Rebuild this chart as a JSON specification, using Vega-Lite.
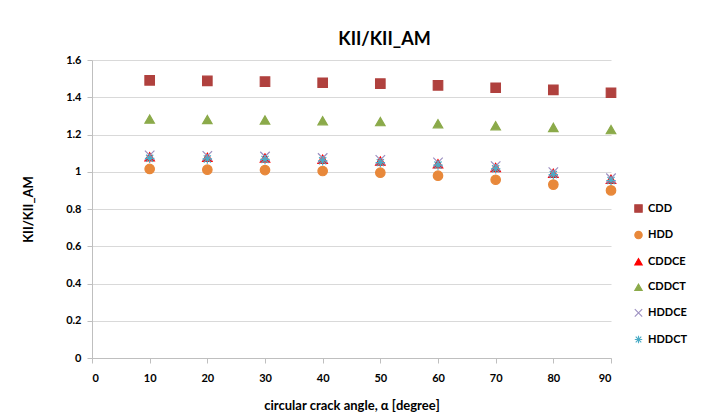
{
  "$schema": "https://vega.github.io/schema/vega-lite/v6.json",
  "width": 519,
  "height": 298,
  "autosize": {"type": "none"},
  "padding": {"left": 92, "top": 60, "right": 93, "bottom": 59},
  "background": "white",
  "title": {
    "text": "KII/KII_AM",
    "font": "Lato",
    "fontSize": 18,
    "fontWeight": "bold",
    "color": "#000000",
    "anchor": "middle",
    "dx": 33,
    "offset": 5
  },
  "data": {
    "values": [
      {"series": "CDD", "angle": 10, "ratio": 1.491},
      {"series": "CDD", "angle": 20, "ratio": 1.488},
      {"series": "CDD", "angle": 30, "ratio": 1.484},
      {"series": "CDD", "angle": 40, "ratio": 1.478},
      {"series": "CDD", "angle": 50, "ratio": 1.473},
      {"series": "CDD", "angle": 60, "ratio": 1.464},
      {"series": "CDD", "angle": 70, "ratio": 1.451},
      {"series": "CDD", "angle": 80, "ratio": 1.440},
      {"series": "CDD", "angle": 90, "ratio": 1.424},
      {"series": "HDD", "angle": 10, "ratio": 1.015},
      {"series": "HDD", "angle": 20, "ratio": 1.011},
      {"series": "HDD", "angle": 30, "ratio": 1.009},
      {"series": "HDD", "angle": 40, "ratio": 1.004},
      {"series": "HDD", "angle": 50, "ratio": 0.995},
      {"series": "HDD", "angle": 60, "ratio": 0.979},
      {"series": "HDD", "angle": 70, "ratio": 0.957},
      {"series": "HDD", "angle": 80, "ratio": 0.931},
      {"series": "HDD", "angle": 90, "ratio": 0.900},
      {"series": "CDDCE", "angle": 10, "ratio": 1.080},
      {"series": "CDDCE", "angle": 20, "ratio": 1.077},
      {"series": "CDDCE", "angle": 30, "ratio": 1.074},
      {"series": "CDDCE", "angle": 40, "ratio": 1.067},
      {"series": "CDDCE", "angle": 50, "ratio": 1.057},
      {"series": "CDDCE", "angle": 60, "ratio": 1.043},
      {"series": "CDDCE", "angle": 70, "ratio": 1.023},
      {"series": "CDDCE", "angle": 80, "ratio": 0.992},
      {"series": "CDDCE", "angle": 90, "ratio": 0.960},
      {"series": "CDDCT", "angle": 10, "ratio": 1.283},
      {"series": "CDDCT", "angle": 20, "ratio": 1.280},
      {"series": "CDDCT", "angle": 30, "ratio": 1.278},
      {"series": "CDDCT", "angle": 40, "ratio": 1.274},
      {"series": "CDDCT", "angle": 50, "ratio": 1.269},
      {"series": "CDDCT", "angle": 60, "ratio": 1.258},
      {"series": "CDDCT", "angle": 70, "ratio": 1.247},
      {"series": "CDDCT", "angle": 80, "ratio": 1.238},
      {"series": "CDDCT", "angle": 90, "ratio": 1.226},
      {"series": "HDDCE", "angle": 10, "ratio": 1.088},
      {"series": "HDDCE", "angle": 20, "ratio": 1.085},
      {"series": "HDDCE", "angle": 30, "ratio": 1.082},
      {"series": "HDDCE", "angle": 40, "ratio": 1.074},
      {"series": "HDDCE", "angle": 50, "ratio": 1.064},
      {"series": "HDDCE", "angle": 60, "ratio": 1.050},
      {"series": "HDDCE", "angle": 70, "ratio": 1.030},
      {"series": "HDDCE", "angle": 80, "ratio": 0.998},
      {"series": "HDDCE", "angle": 90, "ratio": 0.965},
      {"series": "HDDCT", "angle": 10, "ratio": 1.072},
      {"series": "HDDCT", "angle": 20, "ratio": 1.069},
      {"series": "HDDCT", "angle": 30, "ratio": 1.066},
      {"series": "HDDCT", "angle": 40, "ratio": 1.059},
      {"series": "HDDCT", "angle": 50, "ratio": 1.049},
      {"series": "HDDCT", "angle": 60, "ratio": 1.036},
      {"series": "HDDCT", "angle": 70, "ratio": 1.016},
      {"series": "HDDCT", "angle": 80, "ratio": 0.985},
      {"series": "HDDCT", "angle": 90, "ratio": 0.953}
    ]
  },
  "mark": {"type": "point", "filled": true, "opacity": 1, "strokeWidth": 1.2, "size": 90},
  "encoding": {
    "x": {
      "field": "angle",
      "type": "quantitative",
      "scale": {"domain": [0, 90], "nice": false, "zero": true},
      "axis": {
        "values": [0, 10, 20, 30, 40, 50, 60, 70, 80, 90],
        "title": "circular crack angle, α  [degree]",
        "grid": false,
        "domainColor": "#bfbfbf",
        "tickColor": "#bfbfbf",
        "tickSize": 5,
        "labelFont": "Lato",
        "labelFontWeight": "bold",
        "labelFontSize": 11,
        "labelColor": "#000000",
        "labelPadding": 9,
        "titleFont": "Lato",
        "titleFontWeight": "bold",
        "titleFontSize": 13,
        "titleColor": "#000000",
        "titlePadding": 16
      }
    },
    "y": {
      "field": "ratio",
      "type": "quantitative",
      "scale": {"domain": [0, 1.6], "nice": false},
      "axis": {
        "values": [0, 0.2, 0.4, 0.6, 0.8, 1, 1.2, 1.4, 1.6],
        "format": "~g",
        "title": "KII/KII_AM",
        "gridColor": "#d9d9d9",
        "gridWidth": 1,
        "domainColor": "#bfbfbf",
        "tickColor": "#bfbfbf",
        "tickSize": 5,
        "labelFont": "Lato",
        "labelFontWeight": "bold",
        "labelFontSize": 11,
        "labelColor": "#000000",
        "labelPadding": 6,
        "titleFont": "Lato",
        "titleFontWeight": "bold",
        "titleFontSize": 13,
        "titleColor": "#000000",
        "titlePadding": 30
      }
    },
    "fill": {
      "field": "series",
      "type": "nominal",
      "scale": {
        "domain": ["CDD", "HDD", "CDDCE", "CDDCT", "HDDCE", "HDDCT"],
        "range": ["#B0413E", "#E8883A", "#FF0000", "#8BAA4A", "#9C8FC0", "#4BACC6"]
      },
      "legend": null
    },
    "stroke": {
      "field": "series",
      "type": "nominal",
      "scale": {
        "domain": ["CDD", "HDD", "CDDCE", "CDDCT", "HDDCE", "HDDCT"],
        "range": ["#B0413E", "#E8883A", "#FF0000", "#8BAA4A", "#9C8FC0", "#4BACC6"]
      },
      "legend": {
        "title": null,
        "orient": "none",
        "legendX": 541,
        "legendY": 143,
        "labelFont": "Lato",
        "labelFontWeight": "bold",
        "labelFontSize": 11,
        "labelColor": "#000000",
        "labelOffset": 4,
        "rowPadding": 13.6,
        "symbolSize": 55,
        "symbolStrokeWidth": 1.1
      }
    },
    "shape": {
      "field": "series",
      "type": "nominal",
      "scale": {
        "domain": ["CDD", "HDD", "CDDCE", "CDDCT", "HDDCE", "HDDCT"],
        "range": ["square", "circle", "triangle-up", "triangle-up", "M-1,-1L1,1M-1,1L1,-1", "M-1,0L1,0M0,-1L0,1M-0.75,-0.75L0.75,0.75M-0.75,0.75L0.75,-0.75"]
      },
      "legend": {
        "title": null,
        "orient": "none",
        "legendX": 541,
        "legendY": 143,
        "labelFont": "Lato",
        "labelFontWeight": "bold",
        "labelFontSize": 11,
        "labelColor": "#000000",
        "labelOffset": 4,
        "rowPadding": 13.6,
        "symbolSize": 55,
        "symbolStrokeWidth": 1.1
      }
    }
  },
  "config": {
    "view": {"stroke": null}
  }
}
